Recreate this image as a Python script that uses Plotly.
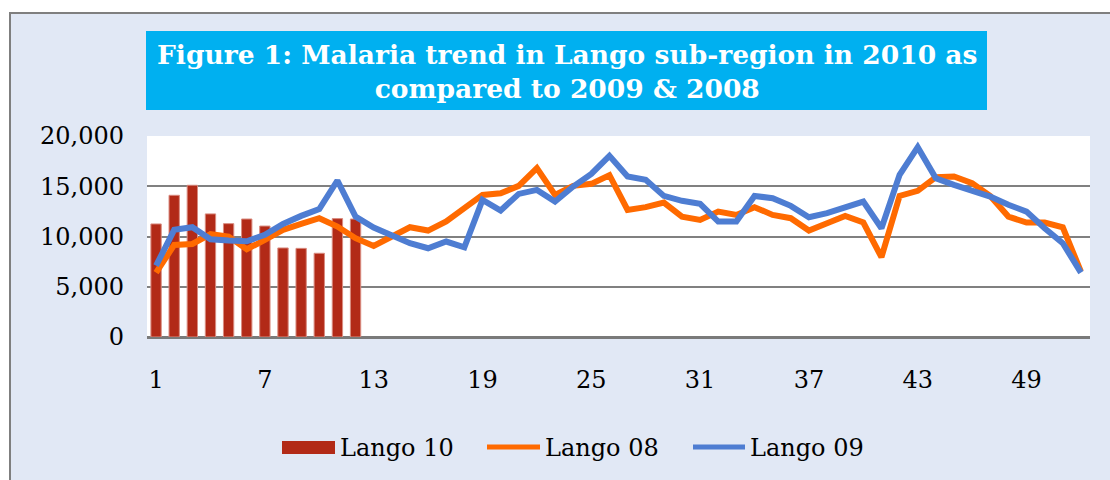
import plotly.graph_objects as go

weeks = list(range(1, 53))
lango10_weeks = list(range(1, 13))
lango10 = [11250, 14100, 15100, 12250, 11280, 11740, 11040, 8860, 8820, 8330, 11780, 11740]
lango08 = [6400, 9160, 9260, 10230, 9990, 8730, 9660, 10660, 11250, 11820, 10990, 9830,
           9060, 9990, 10920, 10590, 11490, 12820, 14140, 14310, 15040, 16800, 14140, 15040,
           15240, 16100, 12650, 12920, 13380, 11980, 11650, 12480, 12150, 12920, 12150, 11820,
           10590, 11320, 12050, 11390, 7940, 14040, 14540, 15900, 15970, 15310, 14040, 11980,
           11390, 11390, 10920, 6500]
lango09 = [7100, 10660, 10920, 9730, 9600, 9530, 10160, 11250, 12050, 12720, 15570, 11980,
           10900, 10160, 9330, 8830, 9500, 8930, 13650, 12580, 14240, 14640, 13480, 14970,
           16230, 18030, 15970, 15640, 14040, 13550, 13250, 11490, 11490, 14040, 13810, 13050,
           11920, 12320, 12920, 13480, 10820, 16130, 18890, 15800, 15140, 14570, 13970, 13150,
           12480, 10820, 9330, 6400]
series_names = ["Lango 10", "Lango 08", "Lango 09"]
x_ticks = [1, 7, 13, 19, 25, 31, 37, 43, 49]
y_ticks = [0, 5000, 10000, 15000, 20000]
y_labels = ["0", "5,000", "10,000", "15,000", "20,000"]
title_lines = ["Figure 1: Malaria trend in Lango sub-region in 2010 as", "compared to 2009 & 2008"]

FONT = "DejaVu Serif"
C_BAR, C_08, C_09 = "#B22A17", "#FF6A00", "#4E7DD2"
W, H = 1110, 480
L, R, T, B = 147, 20, 136, 143
pw, ph = W - L - R, H - T - B


def px(x):
    return (x - L) / pw


def py(y):
    return (H - B - y) / ph


fig = go.Figure()
fig.add_trace(go.Bar(x=lango10_weeks, y=lango10, name=series_names[0], width=0.57,
                     marker=dict(color=C_BAR, line=dict(color="#D98C80", width=1))))
fig.add_trace(go.Scatter(x=weeks, y=lango08, name=series_names[1], mode="lines",
                         line=dict(color=C_08, width=6)))
fig.add_trace(go.Scatter(x=weeks, y=lango09, name=series_names[2], mode="lines",
                         line=dict(color=C_09, width=6)))

shapes = [
    # white strips outside the frame
    dict(type="rect", xref="paper", yref="paper", x0=px(-5), x1=px(1200), y0=py(-5), y1=py(13),
         fillcolor="white", line=dict(width=0), layer="below"),
    dict(type="rect", xref="paper", yref="paper", x0=px(-5), x1=px(10), y0=py(-5), y1=py(500),
         fillcolor="white", line=dict(width=0), layer="below"),
    # frame
    dict(type="rect", xref="paper", yref="paper", x0=px(10), x1=px(1130), y0=py(13), y1=py(500),
         fillcolor="rgba(0,0,0,0)", line=dict(color="#7F7F7F", width=2), layer="below"),
    # title box
    dict(type="rect", xref="paper", yref="paper", x0=px(146), x1=px(987), y0=py(31), y1=py(110),
         fillcolor="#00B0F0", line=dict(width=0), layer="below"),
    # legend swatches
    dict(type="rect", xref="paper", yref="paper", x0=px(282), x1=px(335), y0=py(441), y1=py(454),
         fillcolor=C_BAR, line=dict(width=0)),
    dict(type="line", xref="paper", yref="paper", x0=px(487), x1=px(540), y0=py(447), y1=py(447),
         line=dict(color=C_08, width=5)),
    dict(type="line", xref="paper", yref="paper", x0=px(693), x1=px(745), y0=py(447), y1=py(447),
         line=dict(color=C_09, width=5)),
]

annotations = [
    dict(text="<b>" + title_lines[0] + "</b><br><b>" + title_lines[1] + "</b>",
         xref="paper", yref="paper", x=px(567), y=py(71), xanchor="center", yanchor="middle",
         showarrow=False, font=dict(family=FONT, size=26.5, color="white"), align="center"),
]
for name, xl in zip(series_names, [338, 543, 748]):
    annotations.append(dict(text=name, xref="paper", yref="paper", x=px(xl), y=py(448),
                            xanchor="left", yanchor="middle", showarrow=False,
                            font=dict(family=FONT, size=24, color="black")))

fig.update_layout(
    width=W, height=H,
    margin=dict(l=L, r=R, t=T, b=B, pad=0),
    paper_bgcolor="#E1E8F5",
    plot_bgcolor="white",
    font=dict(family=FONT, size=24, color="black"),
    shapes=shapes,
    annotations=annotations,
    showlegend=False,
    bargap=0.4,
)
fig.update_xaxes(range=[0.5, 52.5], tickvals=x_ticks, ticktext=[str(v) for v in x_ticks],
                 showgrid=False, zeroline=False, showline=False, ticks="",
                 ticklabelstandoff=26,
                 tickfont=dict(family=FONT, size=24, color="black"))
fig.update_yaxes(range=[0, 20000], tickvals=y_ticks, ticktext=y_labels,
                 showgrid=True, gridcolor="#808080", gridwidth=2, zeroline=True,
                 zerolinecolor="#7A7A7A", zerolinewidth=3, showline=False, ticks="",
                 ticklabelstandoff=22,
                 tickfont=dict(family=FONT, size=24, color="black"))

fig.write_html("out.html", config={"displayModeBar": False},
               post_script="document.body.style.margin='0';")
